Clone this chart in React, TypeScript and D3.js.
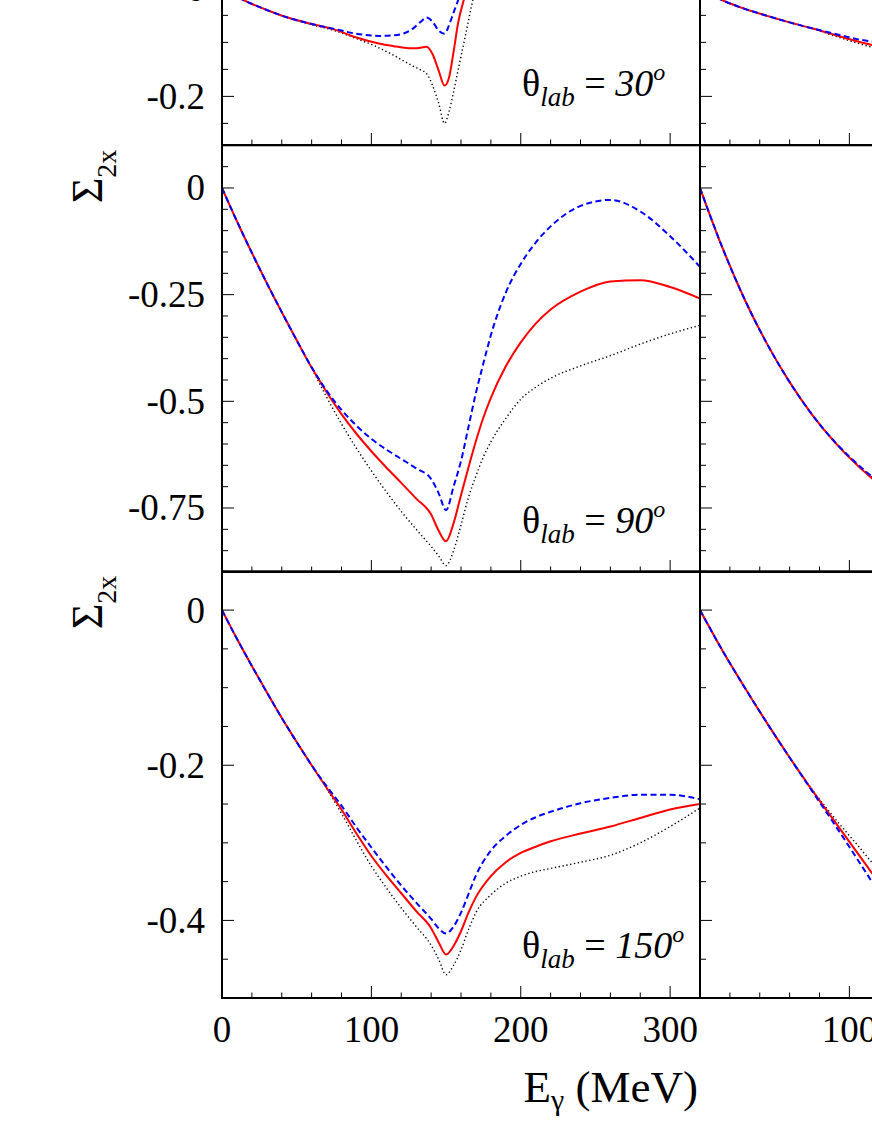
import React from 'react';
import * as d3 from 'd3';

const WIDTH = 872;
const HEIGHT = 1128;
const FONT = '"Liberation Serif", "Times New Roman", serif';

// layout of the panel grid (columns share x, rows share y)
const COL_LEFT = [222, 700];
const COL_W = 478;
const ROW_BOTTOM = [145, 572, 998];
const ROW_H = 426.7;

// energies (MeV) and Sigma_2x values, theta_lab = 30
const E30 = [0, 15, 30, 45, 60, 75, 90, 105, 115, 122, 128, 133, 137, 141, 145, 149, 152, 155, 158, 162, 168, 175];
const black30 = [0, -0.0225, -0.04, -0.055, -0.067, -0.078, -0.093, -0.11, -0.124, -0.135, -0.144, -0.151, -0.158, -0.18, -0.212, -0.25, -0.228, -0.192, -0.152, -0.1, -0.02, 0.07];
const red30 = [0, -0.0225, -0.04, -0.055, -0.066, -0.076, -0.091, -0.102, -0.107, -0.11, -0.111, -0.11, -0.108, -0.122, -0.152, -0.18, -0.165, -0.118, -0.065, -0.02, 0.04, 0.1];
const blue30 = [0, -0.0225, -0.04, -0.055, -0.066, -0.075, -0.084, -0.088, -0.087, -0.083, -0.074, -0.062, -0.054, -0.062, -0.078, -0.084, -0.068, -0.045, -0.0225, 0.01, 0.05, 0.09];

// theta_lab = 90
const E90 = [0, 10, 20, 30, 40, 50, 60, 70, 80, 90, 100, 110, 120, 130, 140, 145, 150, 155, 160, 165, 170, 175, 180, 190, 200, 210, 220, 240, 260, 280, 300, 320];
const black90 = [0, -0.078, -0.152, -0.223, -0.291, -0.357, -0.422, -0.49, -0.553, -0.61, -0.663, -0.712, -0.758, -0.8, -0.84, -0.862, -0.885, -0.85, -0.79, -0.725, -0.675, -0.63, -0.595, -0.54, -0.495, -0.467, -0.446, -0.417, -0.393, -0.366, -0.342, -0.322];
const red90 = [0, -0.078, -0.152, -0.223, -0.291, -0.357, -0.421, -0.478, -0.53, -0.576, -0.617, -0.655, -0.691, -0.728, -0.765, -0.803, -0.828, -0.786, -0.72, -0.655, -0.593, -0.538, -0.492, -0.418, -0.362, -0.318, -0.285, -0.243, -0.219, -0.216, -0.232, -0.259];
const blue90 = [0, -0.078, -0.152, -0.223, -0.291, -0.357, -0.42, -0.475, -0.52, -0.557, -0.588, -0.613, -0.635, -0.657, -0.682, -0.715, -0.755, -0.7, -0.64, -0.56, -0.48, -0.411, -0.345, -0.245, -0.178, -0.128, -0.09, -0.042, -0.028, -0.055, -0.113, -0.185];

// theta_lab = 150
const E150 = [0, 10, 20, 30, 40, 50, 60, 70, 80, 90, 100, 110, 120, 130, 140, 145, 150, 155, 160, 165, 170, 180, 190, 200, 210, 220, 240, 260, 280, 300, 320];
const black150 = [0, -0.037, -0.072, -0.106, -0.139, -0.17, -0.2, -0.23, -0.262, -0.297, -0.33, -0.358, -0.384, -0.408, -0.432, -0.45, -0.47, -0.458, -0.438, -0.412, -0.39, -0.367, -0.352, -0.343, -0.337, -0.333, -0.325, -0.316, -0.3, -0.279, -0.255];
const red150 = [0, -0.037, -0.072, -0.106, -0.139, -0.17, -0.2, -0.229, -0.257, -0.288, -0.317, -0.342, -0.365, -0.388, -0.41, -0.428, -0.444, -0.433, -0.414, -0.39, -0.37, -0.343, -0.325, -0.313, -0.305, -0.298, -0.288, -0.279, -0.268, -0.257, -0.25];
const blue150 = [0, -0.037, -0.072, -0.106, -0.139, -0.17, -0.2, -0.227, -0.252, -0.28, -0.306, -0.331, -0.355, -0.377, -0.398, -0.41, -0.417, -0.408, -0.39, -0.366, -0.342, -0.31, -0.291, -0.277, -0.267, -0.26, -0.249, -0.242, -0.238, -0.238, -0.244];

// right column (only its first ~115 MeV is in the picture)
const ER = [0, 15, 30, 45, 60, 75, 90, 105, 120];
const blackR30 = [0, -0.022, -0.038, -0.051, -0.063, -0.074, -0.088, -0.101, -0.113];
const redR30 = [0, -0.022, -0.038, -0.051, -0.063, -0.074, -0.086, -0.098, -0.108];
const blueR30 = [0, -0.022, -0.038, -0.051, -0.063, -0.074, -0.084, -0.094, -0.1];
const blackR90 = [0, -0.14, -0.262, -0.366, -0.455, -0.531, -0.594, -0.647, -0.692];
const redR90 = [0, -0.14, -0.262, -0.366, -0.455, -0.531, -0.595, -0.649, -0.695];
const blueR90 = [0, -0.14, -0.262, -0.366, -0.455, -0.531, -0.594, -0.646, -0.69];
const blackR150 = [0, -0.052, -0.1, -0.146, -0.19, -0.231, -0.268, -0.302, -0.337];
const redR150 = [0, -0.052, -0.1, -0.146, -0.19, -0.232, -0.272, -0.312, -0.352];
const blueR150 = [0, -0.052, -0.1, -0.146, -0.19, -0.233, -0.276, -0.32, -0.365];

const ANGLES = ['30', '90', '150'];
const X_DOMAIN = [0, 320];
const Y_DOMAINS = [[-0.29, 0.5], [-0.9, 0.1], [-0.5, 0.05]];
const Y_MAJOR = [0.2, 0.25, 0.2];
const X_LABELS = [0, 100, 200, 300];

const STYLES = {
  black: { stroke: '#000000', width: 1.4, dash: '1.3 2.6' },
  red: { stroke: '#ff0000', width: 2, dash: null },
  blue: { stroke: '#0000ff', width: 2, dash: '6 3.5' },
};

const PANELS = [
  { row: 0, col: 0, e: E30, black: black30, red: red30, blue: blue30 },
  { row: 1, col: 0, e: E90, black: black90, red: red90, blue: blue90 },
  { row: 2, col: 0, e: E150, black: black150, red: red150, blue: blue150 },
  { row: 0, col: 1, e: ER, black: blackR30, red: redR30, blue: blueR30 },
  { row: 1, col: 1, e: ER, black: blackR90, red: redR90, blue: blueR90 },
  { row: 2, col: 1, e: ER, black: blackR150, red: redR150, blue: blueR150 },
];

const LABEL_BASE = [49, 39, 40];

const isMult = (v, step) => Math.abs(v / step - Math.round(v / step)) < 1e-6;
const fmt = v => (Math.abs(v) < 1e-9 ? '0' : String(+v.toFixed(2)));

const Panel = ({ p }) => {
  const x0 = COL_LEFT[p.col];
  const yb = ROW_BOTTOM[p.row];
  const yt = yb - ROW_H;
  const xScale = d3.scaleLinear().domain(X_DOMAIN).range([x0, x0 + COL_W]);
  const yScale = d3.scaleLinear().domain(Y_DOMAINS[p.row]).range([yb, yt]);
  const [lo, hi] = Y_DOMAINS[p.row];
  const yTicks = d3.range(Math.ceil(lo / 0.05 - 1e-6), Math.floor(hi / 0.05 + 1e-6) + 1).map(k => +(k * 0.05).toFixed(3));
  const xTicks = d3.range(0, 321, 20);
  const clipId = `clip-${p.row}-${p.col}`;
  const line = (ys) => d3.line()
    .x((d, i) => xScale(p.e[i]))
    .y(d => yScale(d))
    .curve(d3.curveMonotoneX)(ys);

  return (
    <g>
      <defs>
        <clipPath id={clipId}>
          <rect x={x0} y={yt} width={COL_W} height={ROW_H} />
        </clipPath>
      </defs>
      <g clipPath={`url(#${clipId})`}>
        {['black', 'red', 'blue'].map(k => (
          <path key={k} d={line(p[k])} fill="none" stroke={STYLES[k].stroke}
            strokeWidth={STYLES[k].width} strokeDasharray={STYLES[k].dash || undefined} />
        ))}
      </g>
      {yTicks.map(v => {
        const major = isMult(v, Y_MAJOR[p.row]);
        return <line key={'y' + v} x1={x0} x2={x0 + (major ? 12 : 6)} y1={yScale(v)} y2={yScale(v)} stroke="#000" strokeWidth={1} />;
      })}
      {xTicks.map(v => {
        const major = v % 100 === 0;
        return <line key={'x' + v} x1={xScale(v)} x2={xScale(v)} y1={yb} y2={yb - (major ? 12 : 5.5)} stroke="#000" strokeWidth={1} />;
      })}
      <rect x={x0} y={yt} width={COL_W} height={ROW_H} fill="none" stroke="#000" strokeWidth={2} />
      {p.col === 0 && yTicks.filter(v => isMult(v, Y_MAJOR[p.row]) && v <= 0).map(v => (
        <text key={'yl' + v} x={x0 - 17} y={yScale(v) + 12.5} textAnchor="end" fontSize={37} fontFamily={FONT}>{fmt(v)}</text>
      ))}
      {p.row === 2 && X_LABELS.filter(v => p.col === 0 || v > 0).map(v => (
        <text key={'xl' + v} x={xScale(v)} y={1042} textAnchor="middle" fontSize={37} fontFamily={FONT}>{v}</text>
      ))}
      {p.col === 0 && (
        <text x={522} y={yb - LABEL_BASE[p.row]} fontSize={38} fontFamily={FONT}>
          <tspan>θ</tspan>
          <tspan fontStyle="italic" fontSize={27} dy={10}>lab</tspan>
          <tspan dy={-10}>{' = '}</tspan>
          <tspan fontStyle="italic">{ANGLES[p.row]}</tspan>
          <tspan fontStyle="italic" fontSize={24} dy={-16}>o</tspan>
        </text>
      )}
      {p.col === 0 && p.row > 0 && (
        <text transform={`translate(102, ${yt + 58}) rotate(-90)`} fontSize={44} fontFamily={FONT}>
          Σ<tspan fontSize={28} dy={14}>2x</tspan>
        </text>
      )}
    </g>
  );
};

const App = () => (
  <svg width={WIDTH} height={HEIGHT} style={{ position: 'absolute', left: 0, top: 0, background: '#fff' }}>
    <rect x={0} y={0} width={WIDTH} height={HEIGHT} fill="#fff" />
    {PANELS.map(p => <Panel key={`${p.row}-${p.col}`} p={p} />)}
    <text x={698} y={1102} textAnchor="end" fontSize={45} fontFamily={FONT}>
      E<tspan fontSize={30} dy={8}>γ</tspan><tspan dy={-8}>{' (MeV)'}</tspan>
    </text>
  </svg>
);

export default App;
